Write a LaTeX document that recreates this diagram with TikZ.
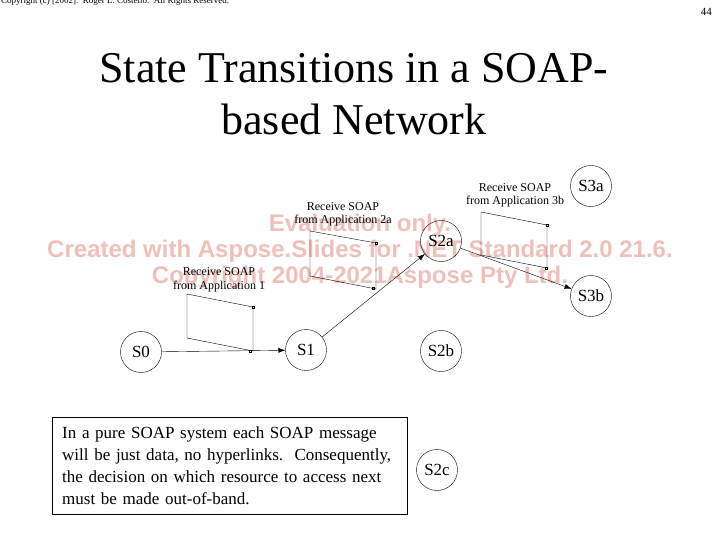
\documentclass[tikz,border=0pt]{standalone}
\usepackage{fontspec}
\setmainfont{Liberation Serif}
\newfontfamily\wmfont{Liberation Sans}
\usetikzlibrary{arrows.meta}
\definecolor{wmpink}{RGB}{238,192,186}
\tikzset{
  state/.style={draw, circle, minimum size=41pt, inner sep=0pt, font=\fontsize{17}{17}\selectfont},
  msglabel/.style={align=center, anchor=base, inner sep=0pt, font=\fontsize{12}{13.5}\selectfont},
  trans/.style={-{Latex[length=7pt,width=5pt]}},
  wmark/.style={text=wmpink, anchor=base, inner sep=0pt, font=\wmfont\bfseries\fontsize{24}{24}\selectfont}
}
\begin{document}
\begin{tikzpicture}[x=1pt,y=-1pt]
  \useasboundingbox (0,0) rectangle (720,540);
  % watermark
  \node[wmark] (wm1) at (360,232) {Evaluation only.};
  \node[wmark] (wm2) at (360,258) {Created with Aspose.Slides for .NET Standard 2.0 21.6.};
  \node[wmark] (wm3) at (360,283) {Copyright 2004-2021Aspose Pty Ltd.};
  % header
  \node[anchor=base west, inner sep=0pt, font=\fontsize{9}{9}\selectfont] (hdr) at (1,4) {Copyright (c) [2002].\ \ Roger L. Costello.\ \ All Rights Reserved.};
  \node[anchor=base east, inner sep=0pt, font=\fontsize{11}{11}\selectfont] (pg) at (712,16) {44};
  % title
  \node[anchor=base, inner sep=0pt, font=\fontsize{44}{44}\selectfont] (title1) at (354,83) {State Transitions in a SOAP-};
  \node[anchor=base, inner sep=0pt, font=\fontsize{44}{44}\selectfont] (title2) at (354,135) {based Network};
  % states
  \node[state] (s0) at (141,352) {S0};
  \node[state] (s1) at (306,350) {S1};
  \node[state] (s2a) at (441,241) {S2a};
  \node[state] (s2b) at (441,351) {S2b};
  \node[state] (s2c) at (437,470) {S2c};
  \node[state] (s3a) at (591,186) {S3a};
  \node[state] (s3b) at (591,296) {S3b};
  % messages
  \draw (187,294) -- (253,307) -- (253,351) -- (187,338) -- cycle;
  \draw (252,306) rectangle (254,308);
  \draw (249,350) rectangle (251,352);
  \node[msglabel] (m1) at (219,289) {Receive SOAP\\from Application 1};
  \draw (310,231) -- (376,243) -- (376,289) -- (310,276) -- cycle;
  \draw (375,242) rectangle (377,244);
  \draw (372,287) rectangle (374,289);
  \node[msglabel] (m2a) at (343,224) {Receive SOAP\\from Application 2a};
  \draw (481,212) -- (547,225) -- (547,268) -- (481,255) -- cycle;
  \draw (546,224) rectangle (548,226);
  \draw (545,267) rectangle (547,269);
  \node[msglabel] (m3b) at (515,205) {Receive SOAP\\from Application 3b};
  % transitions
  \draw[trans] (s0) -- (s1);
  \draw[trans] (s1) -- (s2a);
  \draw[trans] (s2a) -- (s3b);
  % note
  \node[draw, anchor=north west, minimum width=355pt, minimum height=97pt, text width=335pt,
        inner xsep=10pt, align=left, font=\fontsize{17}{21.8}\selectfont] (note) at (52,417)
    {In a pure SOAP system each SOAP message\\
     will be just data, no hyperlinks.\ \ Consequently,\\
     the decision on which resource to access next\\
     must be made out-of-band.};
\end{tikzpicture}
\end{document}
